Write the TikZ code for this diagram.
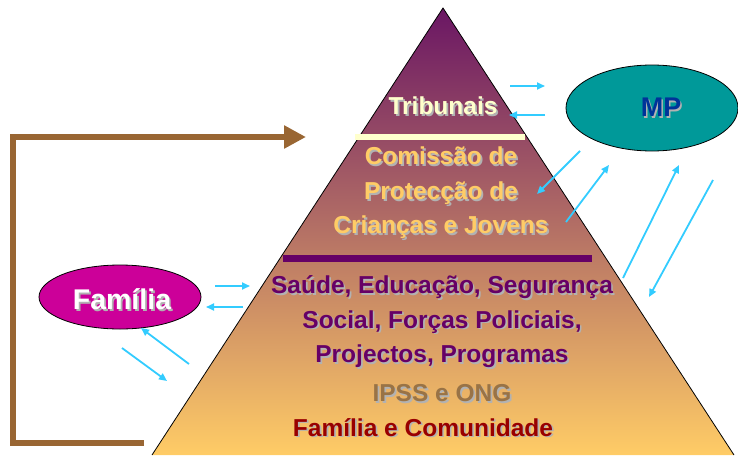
\documentclass[tikz,border=0pt]{standalone}
\usepackage{fontspec}
\setmainfont{Liberation Sans}
\usetikzlibrary{shapes.geometric,arrows.meta}
\definecolor{pyrtop}{RGB}{106,22,100}
\definecolor{pyrmid}{RGB}{200,150,105}
\definecolor{pyrbot}{RGB}{255,204,102}
\definecolor{bluearr}{RGB}{51,204,255}
\definecolor{brownarr}{RGB}{153,102,51}
\definecolor{palebar}{RGB}{255,255,204}
\definecolor{darkpurple}{RGB}{102,0,102}
\definecolor{comtext}{RGB}{255,204,102}
\definecolor{ipsstext}{RGB}{153,115,70}
\definecolor{famtext}{RGB}{153,0,0}
\definecolor{mptext}{RGB}{0,51,153}
\definecolor{famfill}{RGB}{204,0,153}
\definecolor{mpfill}{RGB}{0,153,153}
\definecolor{shadowgray}{RGB}{178,178,178}
\newcommand\shd[1]{\makebox[0pt][l]{\hspace{1.7pt}\raisebox{-1.7pt}{\textcolor{shadowgray}{#1}}}#1}
\begin{document}
\begin{tikzpicture}[x=1pt,y=-1pt,
  txt/.style={font=\bfseries\fontsize{24.5}{34.5}\selectfont,align=center,inner sep=0pt},
  big/.style={txt,font=\bfseries\fontsize{27}{32}\selectfont},
  barr/.style={bluearr,line width=1.8pt,-{Triangle[length=8pt,width=7pt]}},
  brarr/.style={brownarr,line width=6.5pt,line join=miter,-{Triangle[length=22pt,width=22pt]}},
  oval/.style={ellipse,draw=black,line width=0.8pt,inner sep=0pt}]
\useasboundingbox (0,0) rectangle (738,455);
% pyramid
\coordinate (apex) at (443,8);
\coordinate (bl) at (152,455);
\coordinate (br) at (734,455);
\shade[top color=pyrtop,middle color=pyrmid,bottom color=pyrbot] (apex) -- (bl) -- (br) -- cycle;
\draw[black,line width=0.8pt] (bl) -- (apex) -- (br);
% bars
\fill[palebar] (355,134) rectangle (525,140);
\fill[darkpurple] (283,254.5) rectangle (592,261.5);
% texts
\node[txt,text=palebar] (trib) at (443,107) {\shd{Tribunais}};
\node[txt,text=comtext] (cpcj) at (441,194) {\shd{Comissão de}\\\shd{Protecção de}\\\shd{Crianças e Jovens}};
\node[txt,text=darkpurple] (ent) at (442,322.5) {\shd{Saúde, Educação, Segurança}\\\shd{Social, Forças Policiais,}\\\shd{Projectos, Programas}};
\node[txt,text=ipsstext] (ipss) at (442,394) {\shd{IPSS e ONG}};
\node[txt,text=famtext] (famcom) at (423,428) {\shd{Família e Comunidade}};
% ellipses
\node[oval,fill=famfill,minimum width=162pt,minimum height=64pt] (fam) at (120,297) {};
\node[big,text=white,font=\bfseries\fontsize{28.5}{32}\selectfont] (famt) at (122,300) {\shd{Família}};
\node[oval,fill=mpfill,minimum width=172pt,minimum height=86pt] (mp) at (652,108) {};
\node[big,text=mptext] (mpt) at (661,108) {\shd{MP}};
% brown connector
\coordinate (b0) at (144,443);
\coordinate (b1) at (13,443);
\coordinate (b2) at (13,137);
\coordinate (b3) at (306,137);
\draw[brarr] (b0) -- (b1) -- (b2) -- (b3);
% blue arrows near Familia
\coordinate (f1a) at (215,286); \coordinate (f1b) at (250,286);
\coordinate (f2a) at (243,307); \coordinate (f2b) at (206,307);
\coordinate (f3a) at (189,364); \coordinate (f3b) at (141,328);
\coordinate (f4a) at (122,348); \coordinate (f4b) at (167,381);
\draw[barr] (f1a) -- (f1b);
\draw[barr] (f2a) -- (f2b);
\draw[barr] (f3a) -- (f3b);
\draw[barr] (f4a) -- (f4b);
% blue arrows near MP
\coordinate (m1a) at (510,86); \coordinate (m1b) at (545,86);
\coordinate (m2a) at (545,115); \coordinate (m2b) at (509,115);
\coordinate (m3a) at (580,151); \coordinate (m3b) at (537,194);
\coordinate (m4a) at (566,222); \coordinate (m4b) at (609,165);
\coordinate (m5a) at (623,278); \coordinate (m5b) at (679,165);
\coordinate (m6a) at (713,180); \coordinate (m6b) at (649,297);
\draw[barr] (m1a) -- (m1b);
\draw[barr] (m2a) -- (m2b);
\draw[barr] (m3a) -- (m3b);
\draw[barr] (m4a) -- (m4b);
\draw[barr] (m5a) -- (m5b);
\draw[barr] (m6a) -- (m6b);
\end{tikzpicture}
\end{document}
